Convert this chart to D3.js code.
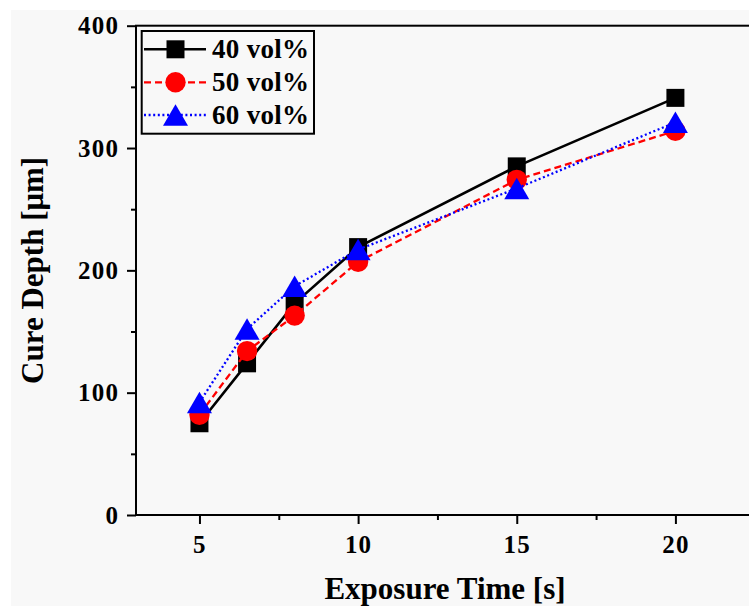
<!DOCTYPE html>
<html>
<head>
<meta charset="utf-8">
<script src="https://cdn.jsdelivr.net/npm/d3@7"></script>
<style>
  html, body { margin: 0; padding: 0; background: #ffffff; }
  svg { display: block; }
</style>
</head>
<body>
<svg id="chart" width="749" height="606"></svg>
<script>
// Exposure times (s) and measured cure depths (µm) for each solid loading
const exposureTimes = [5, 6.5, 8, 10, 15, 20];
const depth40 = [75, 124, 173, 219, 285, 341];
const depth50 = [82, 134, 163, 207, 274, 314];
const depth60 = [92, 152, 187, 217, 267, 321];
const seriesNames = ["40 vol%", "50 vol%", "60 vol%"];

const xMajorTicks = [5, 10, 15, 20];
const xMinorTicks = [7.5, 12.5, 17.5, 22.5];
const yMajorTicks = [0, 100, 200, 300, 400];
const yMinorTicks = [50, 150, 250, 350];

const xTitle = "Exposure Time [s]";
const yTitle = "Cure Depth [\u03bcm]";

const svg = d3.select("#chart");
const W = 749, H = 606;

// panel background
svg.append("rect").attr("x", 11).attr("y", 10).attr("width", W - 11).attr("height", H - 10)
  .attr("fill", "#f8f8f8");

const plotLeft = 136, plotTop = 25.7, plotBottom = 515, plotRight = 770.6;
const x = d3.scaleLinear().domain([3, 23]).range([plotLeft, plotRight]);
const y = d3.scaleLinear().domain([0, 400]).range([plotBottom, plotTop]);

const serifFont = "'Liberation Serif', 'Times New Roman', serif";

// axes
const xAxis = svg.append("g").attr("transform", `translate(0,${plotBottom})`)
  .call(d3.axisBottom(x).tickValues(xMajorTicks).tickSize(9).tickPadding(11).tickFormat(d3.format("d")));
const xMinor = svg.append("g").attr("transform", `translate(0,${plotBottom})`)
  .call(d3.axisBottom(x).tickValues(xMinorTicks).tickSize(5).tickFormat(""));
const yAxis = svg.append("g").attr("transform", `translate(${plotLeft},0)`)
  .call(d3.axisLeft(y).tickValues(yMajorTicks).tickSize(9).tickPadding(9).tickFormat(d3.format("d")));
const yMinor = svg.append("g").attr("transform", `translate(${plotLeft},0)`)
  .call(d3.axisLeft(y).tickValues(yMinorTicks).tickSize(5).tickFormat(""));

[xAxis, xMinor, yAxis, yMinor].forEach(g => {
  g.select(".domain").remove();
  g.selectAll(".tick line").attr("stroke", "#000").attr("stroke-width", 2);
  g.selectAll(".tick text").attr("fill", "#000")
    .style("font-family", serifFont).style("font-weight", "bold").style("font-size", "25px")
    .style("letter-spacing", "1.2px");
});
yAxis.selectAll(".tick text").attr("dx", "1.2px");

// frame
svg.append("rect").attr("x", plotLeft).attr("y", plotTop)
  .attr("width", plotRight - plotLeft).attr("height", plotBottom - plotTop)
  .attr("fill", "none").attr("stroke", "#000").attr("stroke-width", 2);

// axis titles
svg.append("text").attr("x", 445).attr("y", 599).attr("text-anchor", "middle")
  .style("font-family", serifFont).style("font-weight", "bold").style("font-size", "31px")
  .text(xTitle);
svg.append("text").attr("transform", `translate(43,${(plotTop + plotBottom) / 2}) rotate(-90)`)
  .attr("text-anchor", "middle")
  .style("font-family", serifFont).style("font-weight", "bold").style("font-size", "31px")
  .text(yTitle);

// marker shapes
function drawMarker(g, shape, cx, cy, color) {
  if (shape === "square") {
    g.append("path").attr("d", d3.symbol(d3.symbolSquare, 18 * 18)())
      .attr("transform", `translate(${cx},${cy})`).attr("fill", color);
  } else if (shape === "circle") {
    g.append("path").attr("d", d3.symbol(d3.symbolCircle, Math.PI * 10.2 * 10.2)())
      .attr("transform", `translate(${cx},${cy})`).attr("fill", color);
  } else {
    const w = 25, h = 21.5;
    g.append("path")
      .attr("d", `M${cx},${cy - h / 2}L${cx + w / 2},${cy + h / 2}L${cx - w / 2},${cy + h / 2}Z`)
      .attr("fill", color);
  }
}

const series = [
  { name: seriesNames[0], values: depth40, color: "#000000", dash: null, width: 2.6, shape: "square" },
  { name: seriesNames[1], values: depth50, color: "#ff0000", dash: "7,4", width: 2.3, shape: "circle" },
  { name: seriesNames[2], values: depth60, color: "#0000ff", dash: "2,2.6", width: 2.3, shape: "triangle" }
];

const line = d3.line().x(d => x(d[0])).y(d => y(d[1]));
series.forEach(s => {
  const g = svg.append("g");
  const pts = exposureTimes.map((t, i) => [t, s.values[i]]);
  g.append("path").attr("d", line(pts)).attr("fill", "none")
    .attr("stroke", s.color).attr("stroke-width", s.width)
    .attr("stroke-dasharray", s.dash);
  pts.forEach(p => drawMarker(g, s.shape, x(p[0]), y(p[1]), s.color));
});

// legend
const legend = svg.append("g");
legend.append("rect").attr("x", 141.7).attr("y", 31).attr("width", 172.3).attr("height", 102.7)
  .attr("fill", "#f8f8f8").attr("stroke", "#000").attr("stroke-width", 2);
const rowY = [49.3, 82.3, 115];
series.forEach((s, i) => {
  legend.append("line").attr("x1", 144).attr("x2", 206).attr("y1", rowY[i]).attr("y2", rowY[i])
    .attr("stroke", s.color).attr("stroke-width", s.width).attr("stroke-dasharray", s.dash);
  drawMarker(legend, s.shape, 175.5, rowY[i], s.color);
  legend.append("text").attr("x", 212).attr("y", rowY[i]).attr("dy", "0.34em")
    .style("font-family", serifFont).style("font-weight", "bold").style("font-size", "27px")
    .style("letter-spacing", "0.3px")
    .text(s.name);
});
</script>
</body>
</html>
